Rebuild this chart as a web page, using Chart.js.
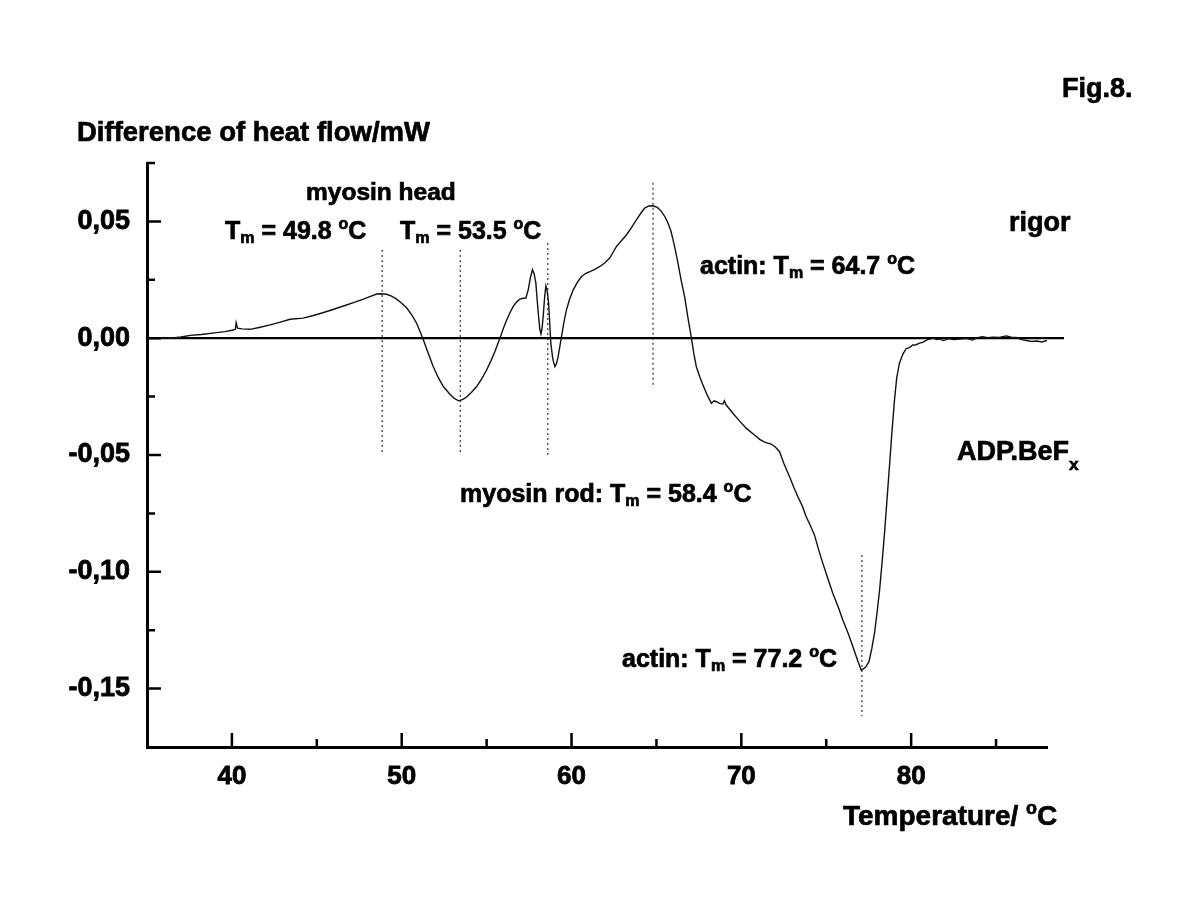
<!DOCTYPE html>
<html lang="en">
<head>
    <meta charset="UTF-8">
    <title>Fig.8 - Difference of heat flow</title>
    <script src="https://cdn.jsdelivr.net/npm/chart.js"></script>
    <style>
        body {
            margin: 0;
            background-color: #ffffff;
        }

        #chartContainer {
            width: 1200px;
            height: 903px;
        }
    </style>
</head>
<body>

    <div id="chartContainer">
        <canvas id="dscChart" width="1200" height="903"></canvas>
    </div>

    <script>
        // DSC trace (temperature in °C, heat flow difference in mW)
        const temperature = [
            35.2, 35.8, 36.4, 37.0, 37.55, 38.2, 39.1, 39.6, 40.0, 40.2, 40.25, 40.33, 40.6, 41.08, 41.6,
            42.25, 42.8, 43.43, 44.2, 44.8, 45.4, 46.0, 46.57, 47.2, 47.74, 48.2, 48.53, 48.8, 49.1, 49.4,
            49.7, 50.0, 50.3, 50.6, 50.88, 51.24, 51.55, 51.86, 52.15, 52.45, 52.84, 53.1, 53.35, 53.6, 53.82,
            54.1, 54.41, 54.7, 55.0, 55.25, 55.49, 55.78, 56.0, 56.18, 56.38, 56.56, 56.76, 56.96, 57.15, 57.31,
            57.45, 57.58, 57.7, 57.8, 57.9, 57.98, 58.06, 58.13, 58.2, 58.27, 58.33, 58.42, 58.49, 58.56, 58.65,
            58.72, 58.78, 58.9, 59.02, 59.12, 59.21, 59.3, 59.41, 59.55, 59.7, 59.9, 60.1, 60.35, 60.59, 60.85,
            61.08, 61.4, 61.67, 61.95, 62.25, 62.45, 62.65, 62.95, 63.24, 63.55, 63.82, 64.1, 64.31, 64.55, 64.8,
            65.05, 65.29, 65.5, 65.68, 65.85, 65.98, 66.12, 66.27, 66.45, 66.66, 66.85, 67.06, 67.2, 67.35, 67.55,
            67.74, 68.0, 68.24, 68.4, 68.53, 68.75, 68.92, 69.0, 69.1, 69.5, 69.9, 70.3, 70.7, 71.08, 71.4,
            71.76, 72.0, 72.25, 72.5, 72.84, 73.1, 73.33, 73.6, 73.82, 74.05, 74.31, 74.55, 74.8, 75.1, 75.39,
            75.7, 75.98, 76.3, 76.57, 76.85, 77.06, 77.3, 77.51, 77.68, 77.84, 78.0, 78.14, 78.3, 78.43, 78.58,
            78.72, 78.87, 79.02, 79.15, 79.31, 79.5, 79.7, 79.9, 80.1, 80.3, 80.49, 80.68, 80.9, 81.07, 81.3,
            81.5, 81.66, 81.9, 82.2, 82.5, 82.84, 83.2, 83.63, 83.9, 84.2, 84.5, 84.8, 85.2, 85.6, 85.9,
            86.2, 86.5, 86.8, 87.1, 87.4, 87.7, 88.0
        ];
        const heatFlow = [
            0.0, 0.0, 0.0, 0.0005, 0.0012, 0.0016, 0.0024, 0.0028, 0.0034, 0.0038, 0.0067, 0.0043, 0.0040, 0.0038, 0.0046,
            0.0057, 0.0068, 0.0081, 0.0086, 0.0097, 0.0110, 0.0124, 0.0138, 0.0153, 0.0167, 0.0180, 0.0189, 0.0190, 0.0188, 0.0180,
            0.0167, 0.0150, 0.0129, 0.0099, 0.0064, 0.0, -0.0062, -0.0122, -0.0168, -0.0207, -0.0240, -0.0258, -0.0268, -0.0262, -0.0252,
            -0.0232, -0.0207, -0.0175, -0.0136, -0.0097, -0.0057, 0.0, 0.0045, 0.0078, 0.0110, 0.0135, 0.0155, 0.0167, 0.0171, 0.0172,
            0.0207, 0.0260, 0.0293, 0.0275, 0.0236, 0.0160, 0.0093, 0.0040, 0.0018, 0.0045, 0.0093, 0.0180, 0.0224, 0.0205, 0.0150,
            0.0060, -0.0021, -0.0090, -0.0122, -0.0108, -0.0079, -0.0040, 0.0007, 0.0068, 0.0121, 0.0170, 0.0207, 0.0240, 0.0264, 0.0278,
            0.0285, 0.0296, 0.0307, 0.0322, 0.0343, 0.0368, 0.0393, 0.0418, 0.0443, 0.0475, 0.0507, 0.0537, 0.0557, 0.0566, 0.0567,
            0.0560, 0.0543, 0.0520, 0.0493, 0.0460, 0.0421, 0.0375, 0.0321, 0.0250, 0.0178, 0.0090, 0.0, -0.0065, -0.0122, -0.0165,
            -0.0200, -0.0245, -0.0279, -0.0268, -0.0272, -0.0280, -0.0282, -0.0268, -0.0285, -0.0321, -0.0355, -0.0386, -0.0410, -0.0433, -0.0446,
            -0.0453, -0.0466, -0.0486, -0.0535, -0.0593, -0.0640, -0.0679, -0.0720, -0.0764, -0.0800, -0.0843, -0.0905, -0.0964, -0.1030, -0.1093,
            -0.1150, -0.1207, -0.1265, -0.1321, -0.1380, -0.1421, -0.1410, -0.1386, -0.1330, -0.1264, -0.1170, -0.1079, -0.0950, -0.0836, -0.0690,
            -0.0550, -0.0400, -0.0264, -0.0170, -0.0107, -0.0070, -0.0045, -0.0040, -0.0029, -0.0028, -0.0021, -0.0018, -0.0008, -0.0004, 0.0,
            -0.0006, -0.0003, -0.0010, -0.0002, -0.0006, -0.0004, -0.0001, -0.0008, 0.0002, 0.0006, 0.0002, 0.0004, 0.0003, 0.0010, 0.0004,
            0.0003, -0.0006, -0.0010, -0.0014, -0.0012, -0.0016, -0.0010
        ];

        // zero baseline (runs a little past the end of the x axis)
        const baselineT = [35, 89];
        const baselineY = [0, 0];

        // dotted markers at the transition temperatures
        const dropLineT = [48.85, 53.45, 58.6, 64.8, 77.1];
        const dropLineTop = [0.0378, 0.0378, 0.0408, 0.0665, -0.0928];
        const dropLineBottom = [-0.05, -0.05, -0.05, -0.0213, -0.1618];

        // ticks
        const xMajorTicks = [40, 50, 60, 70, 80];
        const xMinorTicks = [45, 55, 65, 75, 85];
        const yMajorTicks = [0.05, 0, -0.05, -0.10, -0.15];
        const yTickLabels = ['0,05', '0,00', '-0,05', '-0,10', '-0,15'];
        const yMinorTicks = [0.075, 0.025, -0.025, -0.075, -0.125];

        const FONT = '"Liberation Sans", Arial, Helvetica, sans-serif';

        // text placed on the figure: left x, baseline y, size, runs
        const annotations = [
            { x: 77, y: 141, size: 27.5, parts: [{ t: 'Difference of heat flow/mW' }] },
            { x: 1062, y: 97, size: 27, parts: [{ t: 'Fig.8.' }] },
            { x: 306, y: 200, size: 24.5, parts: [{ t: 'myosin head' }] },
            { x: 225, y: 238.5, size: 25, parts: [{ t: 'T' }, { t: 'm', sub: true }, { t: ' = 49.8 ' }, { t: 'o', sup: true }, { t: 'C' }] },
            { x: 400, y: 238.5, size: 25, parts: [{ t: 'T' }, { t: 'm', sub: true }, { t: ' = 53.5 ' }, { t: 'o', sup: true }, { t: 'C' }] },
            { x: 1009, y: 231, size: 27, parts: [{ t: 'rigor' }] },
            { x: 700, y: 273.5, size: 25, parts: [{ t: 'actin: T' }, { t: 'm', sub: true }, { t: ' = 64.7 ' }, { t: 'o', sup: true }, { t: 'C' }] },
            { x: 957, y: 460, size: 27, parts: [{ t: 'ADP.BeF' }, { t: 'x', sub: true, dy: 10 }] },
            { x: 460, y: 502, size: 25, parts: [{ t: 'myosin rod: T' }, { t: 'm', sub: true }, { t: ' = 58.4 ' }, { t: 'o', sup: true }, { t: 'C' }] },
            { x: 622, y: 667, size: 25, parts: [{ t: 'actin: T' }, { t: 'm', sub: true }, { t: ' = 77.2 ' }, { t: 'o', sup: true }, { t: 'C' }] },
            { x: 843, y: 825, size: 28, parts: [{ t: 'Temperature/ ' }, { t: 'o', sup: true }, { t: 'C' }] }
        ];

        function drawRich(ctx, a) {
            let x = a.x;
            a.parts.forEach(p => {
                let size = a.size;
                let y = a.y;
                if (p.sub) {
                    size = a.size * 0.64;
                    y = a.y + (p.dy !== undefined ? p.dy : 4);
                } else if (p.sup) {
                    size = a.size * 0.64;
                    y = a.y - a.size * 0.4;
                }
                ctx.font = 'bold ' + size + 'px ' + FONT;
                ctx.fillText(p.t, x, y);
                ctx.strokeText(p.t, x, y);
                x += ctx.measureText(p.t).width;
            });
        }

        // ticks point into the plot, so they are drawn here
        const inwardTicks = {
            id: 'inwardTicks',
            afterDatasetsDraw(chart) {
                const ctx = chart.ctx;
                const area = chart.chartArea;
                const xs = chart.scales.x;
                const ys = chart.scales.y;
                ctx.save();
                ctx.strokeStyle = '#000';
                ctx.lineWidth = 2.5;
                ctx.beginPath();
                xMajorTicks.concat(xMinorTicks).forEach(v => {
                    const px = xs.getPixelForValue(v);
                    const len = xMajorTicks.includes(v) ? 14 : 8;
                    ctx.moveTo(px, area.bottom);
                    ctx.lineTo(px, area.bottom - len);
                });
                yMajorTicks.concat(yMinorTicks).forEach(v => {
                    const py = ys.getPixelForValue(v);
                    const len = yMajorTicks.includes(v) ? 14 : 8;
                    ctx.moveTo(area.left, py);
                    ctx.lineTo(area.left + len, py);
                });
                ctx.stroke();
                ctx.restore();
            }
        };

        const textLabels = {
            id: 'textLabels',
            afterDraw(chart) {
                const ctx = chart.ctx;
                ctx.save();
                ctx.fillStyle = '#000';
                ctx.strokeStyle = '#000';
                ctx.lineWidth = 0.7;
                ctx.textBaseline = 'alphabetic';
                ctx.textAlign = 'left';
                annotations.forEach(a => drawRich(ctx, a));
                ctx.restore();
            }
        };

        const datasets = [
            {
                data: temperature.map((t, i) => ({ x: t, y: heatFlow[i] })),
                borderColor: '#111',
                borderWidth: 1.4,
                pointRadius: 0,
                tension: 0
            },
            {
                data: baselineT.map((t, i) => ({ x: t, y: baselineY[i] })),
                borderColor: '#000',
                borderWidth: 2.2,
                pointRadius: 0,
                clip: false
            }
        ];
        dropLineT.forEach((t, i) => {
            datasets.push({
                data: [{ x: t, y: dropLineTop[i] }, { x: t, y: dropLineBottom[i] }],
                borderColor: '#333',
                borderWidth: 1.2,
                borderDash: [2, 3],
                pointRadius: 0
            });
        });

        const ctx = document.getElementById('dscChart').getContext('2d');
        new Chart(ctx, {
            type: 'line',
            data: { datasets: datasets },
            options: {
                responsive: false,
                animation: false,
                devicePixelRatio: 1,
                layout: {
                    padding: { left: 0, top: 163, right: 153, bottom: 76 }
                },
                plugins: {
                    legend: { display: false },
                    tooltip: { enabled: false }
                },
                scales: {
                    x: {
                        type: 'linear',
                        min: 35,
                        max: 88,
                        afterBuildTicks: scale => {
                            scale.ticks = xMajorTicks.concat(xMinorTicks)
                                .sort((a, b) => a - b)
                                .map(v => ({ value: v }));
                        },
                        afterFit: scale => { scale.height = 80; },
                        grid: { display: false },
                        border: { display: true, color: '#000', width: 3 },
                        ticks: {
                            autoSkip: false,
                            maxRotation: 0,
                            padding: 6,
                            color: '#000',
                            textStrokeColor: '#000',
                            textStrokeWidth: 0.8,
                            font: { family: FONT, size: 26, weight: 'bold' },
                            callback: v => xMajorTicks.includes(v) ? String(v) : ''
                        }
                    },
                    y: {
                        min: -0.175,
                        max: 0.075,
                        afterBuildTicks: scale => {
                            scale.ticks = yMajorTicks.concat(yMinorTicks)
                                .sort((a, b) => b - a)
                                .map(v => ({ value: v }));
                        },
                        afterFit: scale => { scale.width = 147; },
                        grid: { display: false },
                        border: { display: true, color: '#000', width: 3 },
                        ticks: {
                            autoSkip: false,
                            padding: 9,
                            color: '#000',
                            textStrokeColor: '#000',
                            textStrokeWidth: 0.8,
                            font: { family: FONT, size: 27, weight: 'bold' },
                            callback: v => {
                                const i = yMajorTicks.findIndex(t => Math.abs(t - v) < 1e-9);
                                return i >= 0 ? yTickLabels[i] : '';
                            }
                        }
                    }
                }
            },
            plugins: [inwardTicks, textLabels]
        });
    </script>

</body>
</html>
